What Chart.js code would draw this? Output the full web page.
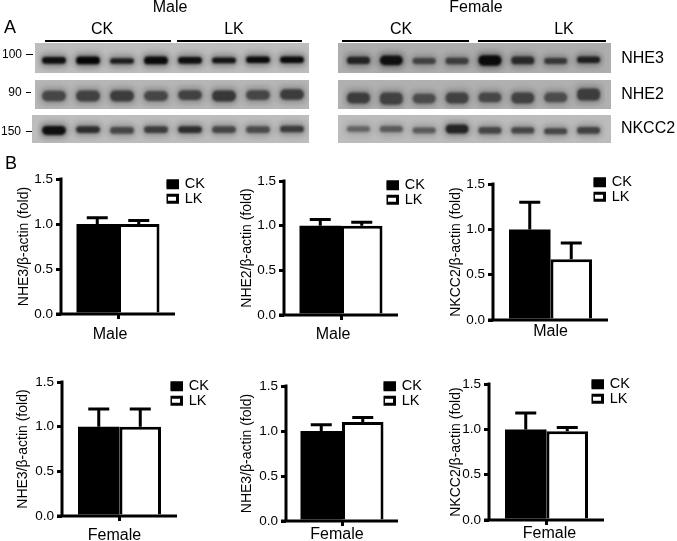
<!DOCTYPE html>
<html><head><meta charset="utf-8">
<script src="https://cdn.jsdelivr.net/npm/chart.js@4"></script>
<style>
html,body{margin:0;padding:0;background:#fff;width:677px;height:541px;overflow:hidden}
#stage{position:relative;width:677px;height:541px;font-family:"Liberation Sans",Arial,sans-serif;color:#000;filter:blur(.3px)}
canvas{position:absolute}
.t{position:absolute;white-space:nowrap;transform:translate(-50%,-50%);line-height:1}
.l{position:absolute;background:#000}
</style></head><body><div id="stage"></div>
<script>
/* ---- bar chart data ---- */
const groups = ["CK","LK"];
const yTicksMax = 1.5;
const p1Values = [1.0,1.0],  p1Errors = [1.07,1.04];
const p2Values = [1.0,1.0],  p2Errors = [1.07,1.04];
const p3Values = [1.0,0.67], p3Errors = [1.30,0.85];
const p4Values = [1.0,1.0],  p4Errors = [1.20,1.20];
const p5Values = [1.0,1.10], p5Errors = [1.07,1.15];
const p6Values = [1.0,0.98], p6Errors = [1.18,1.02];
/* ---- western-blot band data: grey level, band size, band centre (0 top .. 1 bottom) ---- */
const lanes = ["1","2","3","4","5","6","7","8"];
const mNHE3Dark  = [15,5,30,10,15,20,10,10], mNHE3Size  = [.22,.26,.19,.26,.22,.19,.22,.22], mNHE3Mid  = [.58,.58,.6,.58,.58,.58,.56,.56];
const mNHE2Dark  = [70,65,60,70,65,55,70,60], mNHE2Size  = [.36,.38,.38,.34,.34,.38,.34,.36], mNHE2Mid  = [.55,.55,.55,.55,.52,.55,.52,.5];
const mNKCCDark  = [15,45,70,60,45,70,75,60], mNKCCSize  = [.32,.24,.24,.24,.24,.24,.24,.24], mNKCCMid  = [.55,.52,.55,.52,.52,.52,.52,.5];
const fNHE3Dark  = [35,15,65,60,10,40,55,30], fNHE3Size  = [.24,.32,.2,.22,.35,.26,.2,.22], fNHE3Mid  = [.58,.58,.6,.6,.58,.58,.6,.56];
const fNHE2Dark  = [60,65,75,65,70,65,75,60], fNHE2Size  = [.38,.42,.34,.38,.34,.38,.34,.42], fNHE2Mid  = [.62,.64,.64,.62,.6,.62,.6,.5];
const fNKCCDark  = [100,90,90,35,70,70,70,65], fNKCCSize = [.2,.22,.2,.32,.24,.22,.22,.24], fNKCCMid = [.5,.5,.55,.5,.55,.55,.58,.55];

const FONT = '"Liberation Sans", Arial, sans-serif';
const stage = document.getElementById('stage');
function text(s,x,y,size){const d=document.createElement('div');d.className='t';d.textContent=s;
  d.style.left=x+'px';d.style.top=y+'px';d.style.fontSize=size+'px';stage.appendChild(d);}
function rule(x1,x2,y,h){const d=document.createElement('div');d.className='l';
  d.style.cssText+=`left:${x1}px;width:${x2-x1}px;top:${y}px;height:${h}px`;stage.appendChild(d);}
function canvas(l,t,w,h){const c=document.createElement('canvas');c.width=w;c.height=h;
  c.style.cssText=`left:${l}px;top:${t}px;width:${w}px;height:${h}px`;stage.appendChild(c);return c;}

/* ---- static text ---- */
text("Male",170,7,16); text("Female",476,7,16);
text("A",10,27,18); text("B",11,163,18);
text("CK",102,29,16); text("LK",234,29,16); text("CK",401,29,16); text("LK",564,29,16);
rule(45,171,40,2); rule(177,302,40,2); rule(342,469,40,2); rule(478,606,40,2);
text("100",12,54,12); rule(26,33,54,1.4);
text("90",15,92,12); rule(26,31,92,1.4);
text("150",11,131,12); rule(26,32,131,1.4);
text("NHE3",642.5,58,16); text("NHE2",642.5,94,16); text("NKCC2",648,128,16);

/* ---- blots ---- */
const softPlugin = {id:'soft',
  beforeDatasetDraw(c,a){c.ctx.save();c.ctx.filter=a.index===0?'blur(1.1px)':'blur(3px)';},
  afterDatasetDraw(c){c.ctx.restore();}};
function blot(l,t,w,h,bg,dark,size,mid,padL,padR){
  const cv=canvas(l,t,w,h); cv.style.background=bg;
  new Chart(cv,{type:'bar',plugins:[softPlugin],data:{labels:lanes,datasets:[
    {data:mid.map((m,i)=>[m-size[i]/2,m+size[i]/2]),
     backgroundColor:dark.map(v=>`rgb(${v},${v},${v})`),grouped:false,barPercentage:.7,categoryPercentage:1,borderRadius:5,borderSkipped:false},
    {data:mid.map((m,i)=>[m-size[i]/2-.1,m+size[i]/2+.1]),
     backgroundColor:dark.map(v=>`rgba(${v},${v},${v},.38)`),grouped:false,barPercentage:.8,categoryPercentage:1,borderRadius:5,borderSkipped:false}
  ]},options:{responsive:false,animation:false,
    layout:{padding:{left:padL,right:padR,top:0,bottom:0}},
    plugins:{legend:{display:false},tooltip:{enabled:false}},
    scales:{x:{display:false},y:{display:false,reverse:true,min:0,max:1}}}});
}
blot(35,43,274,30,'#bdbdbd',mNHE3Dark,mNHE3Size,mNHE3Mid,2,0);
blot(35,80,274,29,'#b6b6b6',mNHE2Dark,mNHE2Size,mNHE2Mid,2,0);
blot(32,115,277,28,'#bdbdbd',mNKCCDark,mNKCCSize,mNKCCMid,5,0);
blot(338,43,273,30,'#adadad',fNHE3Dark,fNHE3Size,fNHE3Mid,4,6);
blot(338,80,273,29,'#b0b0b0',fNHE2Dark,fNHE2Size,fNHE2Mid,4,6);
blot(338,115,273,28,'#bcbcbc',fNKCCDark,fNKCCSize,fNKCCMid,4,6);

/* ---- bar panels ---- */
const errorPlugin = {id:'errs',afterDatasetsDraw(c,_,o){
  const ctx=c.ctx,y=c.scales.y,x=c.scales.x; ctx.save(); ctx.strokeStyle='#000'; ctx.lineWidth=3;
  c.data.datasets.forEach((ds,i)=>{const b=c.getDatasetMeta(i).data[0];
    const top=y.getPixelForValue(o.errors[i]),base=y.getPixelForValue(ds.data[0]);
    ctx.beginPath();ctx.moveTo(b.x,base);ctx.lineTo(b.x,top);
    ctx.moveTo(b.x-10.5,top);ctx.lineTo(b.x+10.5,top);ctx.stroke();});
  /* both axis lines, centred on the scale edges so that bars stand on them */
  const y0=y.getPixelForValue(0), y1=y.getPixelForValue(yTicksMax);
  ctx.beginPath();ctx.moveTo(x.left,y1-1.5);ctx.lineTo(x.left,y0+1.5);
  ctx.moveTo(x.left-5,y0);ctx.lineTo(x.right,y0);ctx.stroke();
  ctx.restore();}};
const legendPlugin = {id:'placeLegend',beforeDraw(c,_,o){const g=c.legend;
  g.left=o.x+1.5;g.right=g.left+70;g.top=o.y;g.bottom=o.y+40;}};
function panel(p){
  const left=p.axis-50, top=p.top-10, extra=60;
  const w=p.right-left+extra, h=p.zero-top+34;
  new Chart(canvas(left,top,w,h),{type:'bar',plugins:[errorPlugin,legendPlugin],
    data:{labels:[p.cat],datasets:groups.map((g,i)=>({label:g,data:[p.values[i]],
      backgroundColor:i?'#fff':'#000',borderColor:'#000',borderWidth:i?{top:3,left:3,right:3,bottom:0}:0,borderSkipped:'bottom',
      categoryPercentage:83/(p.right-p.axis),barPercentage:1}))},
    options:{responsive:false,animation:false,
      layout:{padding:{left:0,right:extra,top:10,bottom:0}},
      plugins:{tooltip:{enabled:false},
        errs:{errors:p.errors},
        placeLegend:{x:p.lx-left,y:p.ly-top},
        legend:{position:'chartArea',align:'start',
          labels:{boxWidth:11,boxHeight:7,padding:0,color:'#000',font:{family:FONT,size:14.5},
            generateLabels:c=>groups.map((g,i)=>({text:g,fillStyle:i?'#fff':'#000',strokeStyle:'#000',lineWidth:3,hidden:false,datasetIndex:i,fontColor:'#000'}))}}},
      scales:{
        x:{afterFit(s){s.height=34;},
          grid:{offset:false,drawOnChartArea:false,tickLength:p.tick,color:'#000',tickColor:'#000',lineWidth:3,tickWidth:3},
          border:{display:false},
          ticks:{color:'#000',font:{family:FONT,size:16},maxRotation:0,labelOffset:p.lab,padding:p.labPad}},
        y:{min:0,max:yTicksMax,afterFit(s){s.width=50;},
          grid:{drawOnChartArea:false,color:'#000',lineWidth:3,tickLength:5,tickColor:'#000',tickWidth:3},
          border:{display:false},
          ticks:{stepSize:.5,color:'#000',padding:3,font:{family:FONT,size:13.5},callback:v=>v.toFixed(1)},
          title:{display:true,text:p.title,color:'#000',font:{family:FONT,size:14},padding:{top:p.tp,bottom:0}}}
      }}});
}
panel({axis:61,right:175,top:178,zero:314,cat:"Male",values:p1Values,errors:p1Errors,title:"NHE3/β-actin (fold)",lx:165,ly:177,lab:-8,labPad:6,tp:5,tick:5});
panel({axis:284,right:398,top:180,zero:315,cat:"Male",values:p2Values,errors:p2Errors,title:"NHE2/β-actin (fold)",lx:385,ly:178,lab:-8,labPad:5,tp:5,tick:5});
panel({axis:493,right:608,top:183,zero:320,cat:"Male",values:p3Values,errors:p3Errors,title:"NKCC2/β-actin (fold)",lx:592,ly:175,lab:0,labPad:2,tp:5,tick:0});
panel({axis:62,right:177,top:381,zero:516,cat:"Female",values:p4Values,errors:p4Errors,title:"NHE3/β-actin (fold)",lx:169,ly:379,lab:-5,labPad:5,tp:3,tick:5});
panel({axis:286,right:398,top:385,zero:521,cat:"Female",values:p5Values,errors:p5Errors,title:"NHE3/β-actin (fold)",lx:382,ly:379,lab:-5,labPad:-1,tp:3,tick:5});
panel({axis:489,right:604,top:383,zero:520,cat:"Female",values:p6Values,errors:p6Errors,title:"NKCC2/β-actin (fold)",lx:590,ly:377,lab:3,labPad:-1,tp:9,tick:5});
</script></body></html>
